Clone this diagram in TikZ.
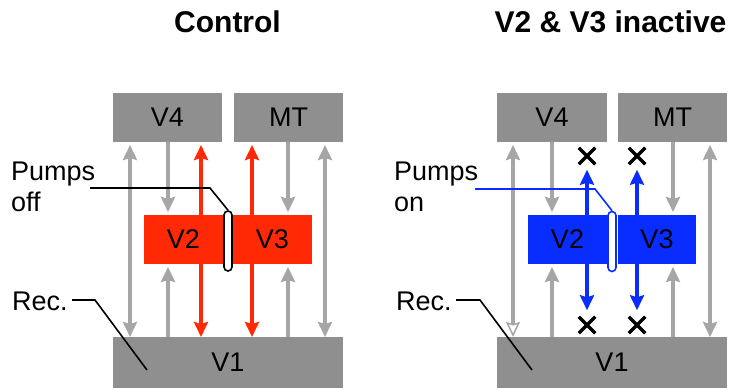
\documentclass[tikz,border=0pt]{standalone}
\usepackage{fontspec}
\setmainfont{Liberation Sans}
\usetikzlibrary{arrows.meta,shapes.misc}
\definecolor{boxgray}{RGB}{143,143,143}
\definecolor{arrgray}{RGB}{166,166,166}
\definecolor{vred}{RGB}{255,42,5}
\definecolor{vblue}{RGB}{10,45,255}
\begin{document}
\begin{tikzpicture}[x=1pt,y=-1pt,
  lbl/.style={font=\fontsize{27}{32}\selectfont},
  ttl/.style={font=\bfseries\fontsize{30}{36}\selectfont, anchor=base, inner sep=0pt},
  txt/.style={lbl, anchor=base west, inner sep=0pt},
  box/.style={fill=#1, inner sep=0pt, outer sep=0pt, anchor=north west, lbl},
  box/.default=boxgray,
  pump/.style={draw=#1, line width=1.6pt, fill=white, rounded corners=4pt, minimum width=8pt, minimum height=60pt, inner sep=0pt},
  pump/.default=black,
  >={Stealth[length=15pt,width=14pt,inset=2pt]},
  garr/.style={draw=arrgray, line width=4pt},
  rarr/.style={draw=vred, line width=4pt},
  barr/.style={draw=vblue, line width=4pt},
  xmark/.style={cross out, draw=black, line width=3.5pt, minimum size=13pt, inner sep=0pt},
  leader/.style={line width=1.6pt}
]
\useasboundingbox (0,0) rectangle (733,388);

% ---------- titles ----------
\node[ttl] (t1) at (227.5,32) {Control};
\node[ttl] (t2) at (610.5,32) {V2 \& V3 inactive};

% ---------- left panel ----------
\node[box, minimum width=109pt, minimum height=49pt] (V4L) at (113,93) {V4};
\node[box, minimum width=109pt, minimum height=49pt] (MTL) at (234,93) {MT};
\node[box, minimum width=230pt, minimum height=51pt] (V1L) at (113,337) {V1};
\node[box=vred, minimum width=79pt, minimum height=49pt] (V2L) at (144,215) {V2};
\node[box=vred, minimum width=79pt, minimum height=49pt] (V3L) at (233,215) {V3};

\coordinate (a1) at (130,0);
\coordinate (a2) at (168,0);
\coordinate (r1) at (201,0);
\coordinate (r2) at (252,0);
\coordinate (a3) at (288,0);
\coordinate (a4) at (325,0);

\draw[garr,<->,shorten >=3pt] (V1L.north -| a1) -- (V4L.south -| a1);
\draw[garr,->,shorten >=3pt] (V4L.south -| a2) -- (V2L.north -| a2);
\draw[garr,->,shorten >=3pt] (V1L.north -| a2) -- (V2L.south -| a2);
\draw[rarr,->,shorten >=3pt] (V2L.north -| r1) -- (V4L.south -| r1);
\draw[rarr,->] (V2L.south -| r1) -- (V1L.north -| r1);
\draw[rarr,->,shorten >=3pt] (V3L.north -| r2) -- (MTL.south -| r2);
\draw[rarr,->] (V3L.south -| r2) -- (V1L.north -| r2);
\draw[garr,->,shorten >=3pt] (MTL.south -| a3) -- (V3L.north -| a3);
\draw[garr,->,shorten >=3pt] (V1L.north -| a3) -- (V3L.south -| a3);
\draw[garr,<->,shorten >=3pt] (V1L.north -| a4) -- (MTL.south -| a4);

\node[pump] (pumpL) at (228,241) {};

\node[txt] (pumpsL) at (11,180) {Pumps};
\node[txt] (offL) at (11,211) {off};
\node[txt] (recL) at (12,310) {Rec.};

\coordinate (pl0) at (90,188);
\coordinate (pl1) at (210,188);
\draw[leader] (pl0) -- (pl1) -- (pumpL.north);
\coordinate (rl0) at (72,300);
\coordinate (rl1) at (95,300);
\coordinate (rl2) at (147,370);
\draw[leader] (rl0) -- (rl1) -- (rl2);

% ---------- right panel ----------
\node[box, minimum width=110pt, minimum height=49pt] (V4R) at (497,93) {V4};
\node[box, minimum width=109pt, minimum height=49pt] (MTR) at (618,93) {MT};
\node[box, minimum width=230pt, minimum height=51pt] (V1R) at (497,337) {V1};
\node[box=vblue, minimum width=79pt, minimum height=49pt] (V2R) at (528,215) {V2};
\node[box=vblue, minimum width=78pt, minimum height=49pt] (V3R) at (618,215) {V3};

\coordinate (b1) at (513,0);
\coordinate (b2) at (552,0);
\coordinate (u1) at (587,0);
\coordinate (u2) at (637,0);
\coordinate (b3) at (673,0);
\coordinate (b4) at (710,0);

\node[xmark] (x1) at (587,156) {};
\node[xmark] (x2) at (637,156) {};
\node[xmark] (x3) at (587,325) {};
\node[xmark] (x4) at (637,325) {};

\draw[garr,{Stealth[length=15pt,width=14pt,inset=2pt,fill=white,line width=1.5pt]}->,shorten >=3pt] (V1R.north -| b1) -- (V4R.south -| b1);
\draw[garr,->,shorten >=3pt] (V4R.south -| b2) -- (V2R.north -| b2);
\draw[garr,->,shorten >=3pt] (V1R.north -| b2) -- (V2R.south -| b2);
\draw[barr,->,shorten >=5.5pt] (V2R.north -| u1) -- (x1.south);
\draw[barr,->,shorten >=6.5pt] (V2R.south -| u1) -- (x3.north);
\draw[barr,->,shorten >=5.5pt] (V3R.north -| u2) -- (x2.south);
\draw[barr,->,shorten >=6.5pt] (V3R.south -| u2) -- (x4.north);
\draw[garr,->,shorten >=3pt] (MTR.south -| b3) -- (V3R.north -| b3);
\draw[garr,->,shorten >=3pt] (V1R.north -| b3) -- (V3R.south -| b3);
\draw[garr,<->,shorten >=3pt] (V1R.north -| b4) -- (MTR.south -| b4);

\node[pump=vblue] (pumpR) at (612,241.5) {};

\node[txt] (pumpsR) at (394,180) {Pumps};
\node[txt] (onR) at (394,211) {on};
\node[txt] (recR) at (396,310) {Rec.};

\coordinate (pr0) at (475,189);
\coordinate (pr1) at (595,189);
\draw[leader, draw=vblue] (pr0) -- (pr1) -- (pumpR.north);
\coordinate (rr0) at (456,300);
\coordinate (rr1) at (480,300);
\coordinate (rr2) at (532,370);
\draw[leader] (rr0) -- (rr1) -- (rr2);
\end{tikzpicture}
\end{document}
